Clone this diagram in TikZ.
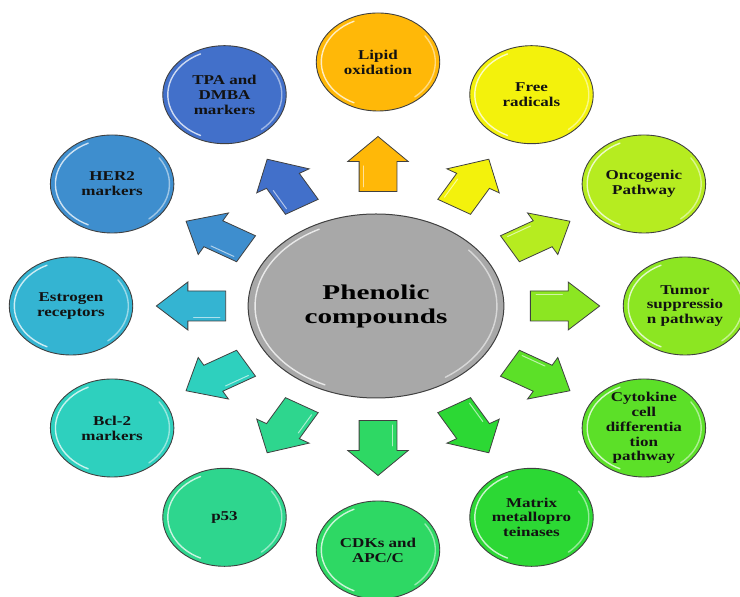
\documentclass[tikz,border=0pt]{standalone}
\usepackage{fontspec}
\setmainfont{Liberation Serif}
\usetikzlibrary{shapes.geometric}

\definecolor{cLipid}{RGB}{255,184,8}
\definecolor{cFree}{RGB}{243,242,12}
\definecolor{cOnco}{RGB}{182,236,32}
\definecolor{cTumor}{RGB}{140,230,34}
\definecolor{cCyto}{RGB}{92,224,40}
\definecolor{cMatrix}{RGB}{44,216,52}
\definecolor{cCdk}{RGB}{46,216,100}
\definecolor{cPtf}{RGB}{46,214,142}
\definecolor{cBcl}{RGB}{46,208,190}
\definecolor{cEstro}{RGB}{52,180,210}
\definecolor{cHer}{RGB}{62,142,206}
\definecolor{cTpa}{RGB}{66,112,202}
\definecolor{cCentre}{RGB}{168,168,168}
\definecolor{cEdge}{RGB}{64,64,64}
\definecolor{cInk}{RGB}{18,18,18}

\begin{document}
\begin{tikzpicture}[x=1pt,y=1pt,
  bubble/.style={circle, draw=cEdge, line width=0.9pt, minimum size=98pt,
    inner sep=0pt, xscale=1.26, align=center, text=cInk,
    font=\bfseries\fontsize{13.5}{14.8}\selectfont},
  hub/.style={circle, draw=cEdge, line width=1pt, fill=cCentre,
    minimum size=184pt, inner sep=0pt, xscale=1.39, align=center, text=black,
    font=\bfseries\fontsize{21}{24}\selectfont},
  blockarrow/.style={draw=cEdge, line width=0.8pt, line join=miter},
  gloss/.style={white, opacity=0.75, line width=1.4pt, line cap=round},
]
\useasboundingbox (0,0) rectangle (740,597);

% central ellipse
\node[hub] (hub) at (376,291) {Phenolic\\compounds};
\begin{scope}[shift={(376,291)}, xscale=1.39]
  \draw[gloss] (118:87) arc[start angle=118, end angle=245, radius=87];
  \draw[gloss, opacity=0.55] (-55:87) arc[start angle=-55, end angle=40, radius=87];
\end{scope}

% block arrows pointing outwards, drawn in a circular frame stretched sideways
\foreach \a/\c in {90/cLipid, 60/cFree, 30/cOnco, 0/cTumor, -30/cCyto,
    -60/cMatrix, -90/cCdk, -120/cPtf, -150/cBcl, 180/cEstro, 150/cHer, 120/cTpa}{
  \draw[blockarrow, fill=\c]
    [shift={({378+187*cos(\a)},{291+142*sin(\a)})}, xscale=1.26, rotate=\a]
    (-27.5,-15) -- (2.5,-15) -- (2.5,-24) -- (27.5,0) -- (2.5,24)
    -- (2.5,15) -- (-27.5,15) -- cycle;
  \draw[white, opacity=0.6, line width=1pt, line cap=round]
    [shift={({378+187*cos(\a)},{291+142*sin(\a)})}, xscale=1.26, rotate=\a]
    (-23,11.5) -- (-2,11.5);
}

% outer bubbles
\foreach \a/\c/\n/\t in {
    90/cLipid/lipid/{Lipid\\oxidation},
    60/cFree/free/{Free\\radicals},
    30/cOnco/onco/{Oncogenic\\Pathway},
    0/cTumor/tumor/{Tumor\\suppressio\\n pathway},
    -30/cCyto/cyto/{Cytokine\\cell\\differentia\\tion\\pathway},
    -60/cMatrix/matrix/{Matrix\\metallopro\\teinases},
    -90/cCdk/cdk/{CDKs and\\APC/C},
    -120/cPtf/ptf/{p53},
    -150/cBcl/bcl/{Bcl-2\\markers},
    180/cEstro/estro/{Estrogen\\receptors},
    150/cHer/her/{HER2\\markers},
    120/cTpa/tpa/{TPA and\\DMBA\\markers}}{
  \node[bubble, fill=\c] (\n) at ({378+307*cos(\a)},{291+244*sin(\a)}) {\t};
  \begin{scope}[shift={(\n.center)}, xscale=1.26]
    \draw[gloss] (115:45) arc[start angle=115, end angle=245, radius=45];
    \draw[gloss, opacity=0.5] (-50:45.5) arc[start angle=-50, end angle=35, radius=45.5];
  \end{scope}
}
\end{tikzpicture}
\end{document}
